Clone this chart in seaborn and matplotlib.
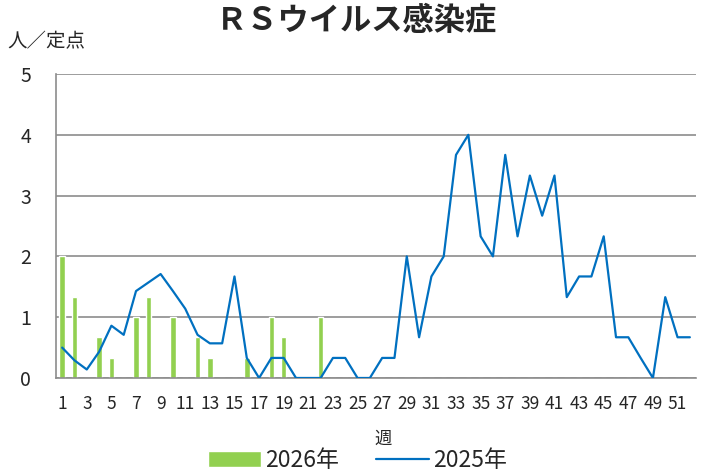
import matplotlib
matplotlib.use('Agg')
import matplotlib.pyplot as plt
import numpy as np
import pandas as pd
import seaborn as sns

# データ（週ごとの定点当たり報告数）
weeks = list(range(1, 53))
cases_2026 = [2.0, 1.33, 0, 0.67, 0.33, 0, 1.0, 1.33, 0, 1.0,
              0, 0.67, 0.33, 0, 0, 0.33, 0, 1.0, 0.67, 0,
              0, 1.0] + [0] * 30
cases_2025 = [0.5, 0.29, 0.14, 0.43, 0.86, 0.71, 1.43, 1.57, 1.71, 1.43,
              1.14, 0.71, 0.57, 0.57, 1.67, 0.33, 0, 0.33, 0.33, 0,
              0, 0, 0.33, 0.33, 0, 0, 0.33, 0.33, 2.0, 0.67,
              1.67, 2.0, 3.67, 4.0, 2.33, 2.0, 3.67, 2.33, 3.33, 2.67,
              3.33, 1.33, 1.67, 1.67, 2.33, 0.67, 0.67, 0.33, 0, 1.33,
              0.67, 0.67]
xtick_labels = [str(w) for w in range(1, 53, 2)]

df = pd.DataFrame({'週': weeks, '2026年': cases_2026, '2025年': cases_2025})

sns.set_style('white')
plt.rcParams['font.family'] = ['Noto Sans CJK JP', 'DejaVu Sans']

fig = plt.figure(figsize=(7.01, 4.76), dpi=100)
ax = fig.add_axes([0.0799, 0.2059, 0.913, 0.6386])

grid_c = '#8c8c8c'
ax.yaxis.grid(True, color=grid_c, linewidth=1.2)
ax.set_axisbelow(True)

sns.barplot(data=df, x='週', y='2026年', native_scale=True, width=0.45,
            color='#92D050', saturation=1, ax=ax, label='2026年', zorder=2)
sns.lineplot(data=df, x='週', y='2025年', color='#0070C0', linewidth=1.6,
             ax=ax, label='2025年', zorder=3)

ax.set_xlim(0.5, 52.5)
ax.set_ylim(0, 5)
ax.set_yticks(range(0, 6))
ax.set_xticks(range(1, 53, 2))
ax.set_xticklabels(xtick_labels)
ax.set_xticks(np.arange(0.5, 53, 1), minor=True)
ax.tick_params(axis='x', which='major', length=0, labelsize=12.5, pad=12)
ax.tick_params(axis='x', which='minor', length=6, color=grid_c, width=1)
ax.tick_params(axis='y', length=6, color=grid_c, width=1, labelsize=14, pad=12)
ax.set_xlabel('')
ax.set_ylabel('')

for s in ['top', 'right']:
    ax.spines[s].set_visible(False)
for s in ['left', 'bottom']:
    ax.spines[s].set_color(grid_c)
    ax.spines[s].set_linewidth(1.2)

ax.legend_.remove()
handles, labels = ax.get_legend_handles_labels()
order = [labels.index('2026年'), labels.index('2025年')]
fig.legend([handles[i] for i in order], [labels[i] for i in order],
           loc='center', bbox_to_anchor=(0.51, 0.032), ncol=2,
           frameon=False, fontsize=16.5, handlelength=2.3, handleheight=0.7,
           columnspacing=1.6, handletextpad=0.2)

fig.suptitle('ＲＳウイルス感染症', x=0.508, y=0.99, fontsize=22.5, fontweight='bold')
fig.text(0.011, 0.9, '人／定点', fontsize=14)
fig.text(0.546, 0.068, '週', fontsize=12.5, ha='center')

fig.savefig('out.png', dpi=100)
